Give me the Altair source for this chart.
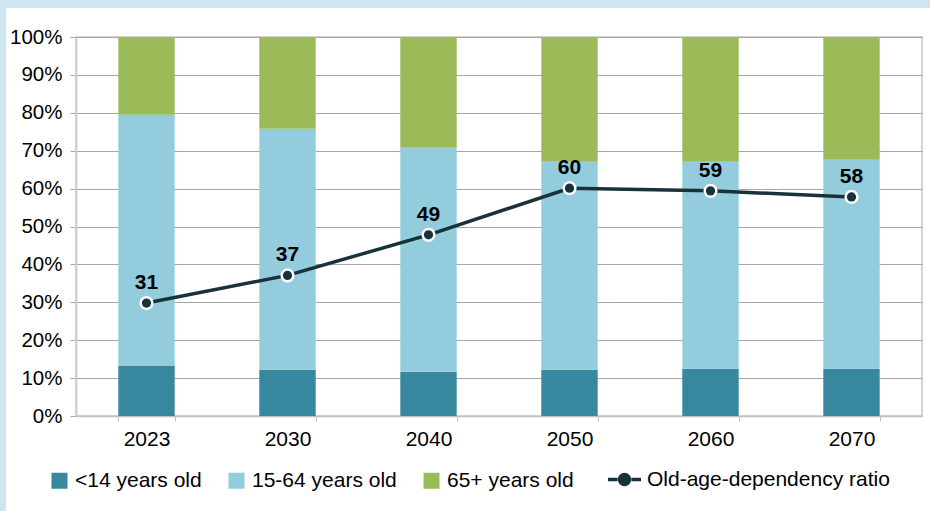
import altair as alt
import pandas as pd

years = ["2023", "2030", "2040", "2050", "2060", "2070"]
groups = ["<14 years old", "15-64 years old", "65+ years old"]
young = [13.3, 12.2, 11.7, 12.2, 12.5, 12.5]
working = [66.2, 63.6, 59.1, 54.9, 54.6, 55.1]
old = [20.5, 24.2, 29.2, 32.9, 32.9, 32.4]
ratio_pos = [29.8, 37.1, 47.8, 60.1, 59.4, 57.8]
ratio_label = [31, 37, 49, 60, 59, 58]
line_name = "Old-age-dependency ratio"

bar_colors = ["#37889f", "#93cddd", "#9bbb59"]
line_color = "#173339"
font = "Liberation Sans"

rows = []
for i, y in enumerate(years):
    for k, (g, vals) in enumerate(zip(groups, [young, working, old])):
        rows.append({"year": y, "group": g, "order": k, "value": vals[i]})
bars_df = pd.DataFrame(rows)
line_df = pd.DataFrame({"year": years, "pos": ratio_pos, "label": ratio_label,
                        "series": [line_name] * len(years)})

xscale = alt.Scale(domain=years, paddingInner=0.6, paddingOuter=0.3)
yscale = alt.Scale(domain=[0, 100], nice=False)

x_axis = alt.Axis(labelAngle=0, labelFontSize=21, labelFont=font, labelColor="#000000",
                  tickBand="extent", tickSize=5, tickColor="#bfbfbf",
                  domainColor="#bfbfbf", domainWidth=1.5, labelPadding=7, grid=False)
y_axis = alt.Axis(values=list(range(0, 101, 10)), labelExpr="datum.value + '%'",
                  labelFontSize=20.5, labelFont=font, labelColor="#000000",
                  labelOverlap=False, grid=True, gridColor="#a6a6a6", gridWidth=1.2,
                  tickSize=6, tickColor="#a6a6a6", domainColor="#d0d0d0",
                  domainWidth=2, labelPadding=8)


def xe():
    return alt.X("year:N", scale=xscale, sort=years, title=None, axis=x_axis)


def ye(field, **kw):
    return alt.Y(field, scale=yscale, title=None, axis=y_axis, **kw)


bars = alt.Chart(bars_df).mark_bar().encode(
    x=xe(),
    y=ye("value:Q", stack="zero"),
    color=alt.Color("group:N", scale=alt.Scale(domain=groups, range=bar_colors),
                    legend=alt.Legend(title=None, orient="none", direction="horizontal",
                                      legendX=-27, legendY=433, symbolType="square",
                                      symbolSize=256, symbolStrokeWidth=0,
                                      labelFontSize=21, labelFont=font, labelColor="#000000",
                                      columnPadding=24, labelOffset=5, labelLimit=400)),
    order=alt.Order("order:Q"),
)

line = alt.Chart(line_df).mark_line(color=line_color, strokeWidth=3.5).encode(
    x=xe(), y=ye("pos:Q"),
)

ring = alt.Chart(line_df).mark_point(filled=True, color="#ffffff", size=200, opacity=1).encode(
    x=xe(), y=ye("pos:Q"),
)

legend_path = "M-1,0L-0.42,0M0.42,0L1,0M-0.3,0A0.3,0.3,0,1,1,0.3,0A0.3,0.3,0,1,1,-0.3,0Z"
dots = alt.Chart(line_df).mark_point(filled=True, size=85, opacity=1).encode(
    x=xe(), y=ye("pos:Q"),
    fill=alt.Fill("series:N", scale=alt.Scale(domain=[line_name], range=[line_color]),
                  legend=alt.Legend(title=None, orient="none", legendX=530, legendY=424,
                                    symbolType=legend_path, symbolSize=1089,
                                    symbolStrokeColor=line_color, symbolStrokeWidth=3.5,
                                    labelFontSize=21, labelFont=font, labelColor="#000000",
                                    labelOffset=4, labelLimit=400)),
)

labels = alt.Chart(line_df).mark_text(font=font, fontSize=21, fontWeight="bold",
                                      color="#000000", baseline="alphabetic", dy=-14).encode(
    x=xe(), y=ye("pos:Q"),
    text=alt.Text("label:Q"),
)

strip_color = "#cde6ef"
top_strip = alt.Chart(pd.DataFrame({"a": [0]})).mark_rect(color=strip_color).encode(
    x=alt.value(-76), x2=alt.value(854), y=alt.value(-37), y2=alt.value(-29))
left_strip = alt.Chart(pd.DataFrame({"a": [0]})).mark_rect(color=strip_color).encode(
    x=alt.value(-76), x2=alt.value(-70), y=alt.value(-37), y2=alt.value(474))

chart = alt.layer(top_strip, left_strip, bars, line, ring, dots, labels).properties(
    width=846, height=379,
    autosize=alt.AutoSizeParams(type="none"),
    padding={"left": 76, "top": 37, "right": 8, "bottom": 95},
    background="#ffffff",
).configure_view(stroke="#c8c8c8", strokeWidth=1.5).configure_axis(
    labelFont=font, labelFontSize=21, labelColor="#000000")

chart.save("out.html", embed_options={"renderer": "svg", "actions": False})
